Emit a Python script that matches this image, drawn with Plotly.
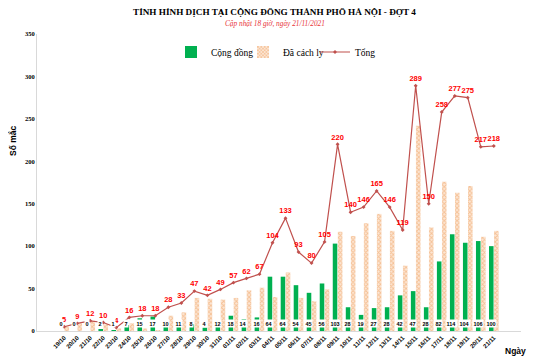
import plotly.graph_objects as go

dates = ["19/10", "20/10", "21/10", "22/10", "23/10", "24/10", "25/10", "26/10", "27/10", "28/10",
         "29/10", "30/10", "31/10", "01/11", "02/11", "03/11", "04/11", "05/11", "06/11", "07/11",
         "08/11", "09/11", "10/11", "11/11", "12/11", "13/11", "14/11", "15/11", "16/11", "17/11",
         "18/11", "19/11", "20/11", "21/11"]
cong_dong = [0, 0, 0, 2, 1, 7, 15, 17, 10, 11, 8, 4, 12, 18, 14, 16, 64, 64, 54, 45,
             56, 103, 28, 19, 27, 28, 42, 47, 28, 82, 114, 104, 106, 100]
tong = [5, 9, 12, 10, 4, 16, 18, 18, 28, 33, 47, 42, 49, 57, 62, 67, 104, 133, 93, 80,
        105, 220, 140, 146, 165, 146, 119, 289, 150, 258, 277, 275, 217, 218]
da_cach_ly = [t - c for t, c in zip(tong, cong_dong)]

# page has an 8px body margin: figure occupies window pixels 8..540 / 8..360
O = 8
W, H = 540 - O, 360 - O
# plot area in window pixels: x 37..521, y 34..331
PL, PR, PT, PB = 37, 521, 34, 331
L, R, T, B = PL - O, 540 - PR, PT - O, 360 - PB
pw, ph = PR - PL, PB - PT

def px(x):
    return (x - PL) / pw

def py(y):
    return (PB - y) / ph

fig = go.Figure()
fig.add_trace(go.Bar(
    x=dates, y=cong_dong, name="Cộng đồng",
    marker=dict(color="#00B050", line=dict(width=0)),
))
fig.add_trace(go.Bar(
    x=dates, y=da_cach_ly, name="Đã cách ly",
    marker=dict(color="#FBE0C8", line=dict(width=0),
                pattern=dict(shape="x", fgcolor="#EE9A55", bgcolor="#FCE6D4", size=3, solidity=0.5)),
))
fig.add_trace(go.Scatter(
    x=dates, y=tong, name="Tổng", mode="lines+markers+text",
    line=dict(color="#C0504D", width=1.2),
    marker=dict(symbol="diamond", size=3, color="#C0504D"),
    text=[str(v) for v in tong], textposition="top center",
    textfont=dict(family="Liberation Sans", size=7.5, color="#FF0000", weight="bold"),
))

for i, v in enumerate(cong_dong):
    fig.add_annotation(
        x=i, y=0, xref="x", yref="y", text=str(v), showarrow=False,
        xshift=-3, yshift=8, yanchor="middle",
        font=dict(family="Liberation Sans", size=5.5, color="#000000", weight="bold"),
        bgcolor="#FFFFFF", borderpad=0.5,
    )

fig.add_annotation(x=px(274), y=py(12), xref="paper", yref="paper",
                   text="<b>TÌNH HÌNH DỊCH TẠI CỘNG ĐỒNG THÀNH PHỐ HÀ NỘI - ĐỢT 4</b>",
                   showarrow=False, font=dict(family="Liberation Serif", size=9.2, color="#000000"),
                   xanchor="center", yanchor="middle")
fig.add_annotation(x=px(275), y=py(23), xref="paper", yref="paper",
                   text="<i>Cập nhật 18 giờ, ngày 21/11/2021</i>",
                   showarrow=False, font=dict(family="Liberation Serif", size=7.3, color="#E8343A"),
                   xanchor="center", yanchor="middle")
fig.add_annotation(x=px(12), y=py(141), xref="paper", yref="paper", text="<b>Số mắc</b>",
                   textangle=-90, showarrow=False,
                   font=dict(family="Liberation Sans", size=8.5, color="#000000"),
                   xanchor="center", yanchor="middle")
fig.add_annotation(x=px(515), y=py(351), xref="paper", yref="paper", text="<b>Ngày</b>",
                   showarrow=False, font=dict(family="Liberation Sans", size=8.5, color="#000000"),
                   xanchor="center", yanchor="middle")

fig.add_shape(type="line", xref="paper", yref="paper", x0=px(537.5), x1=px(537.5),
              y0=py(360), y1=py(O), line=dict(color="#D0D0D0", width=1))

fig.update_layout(
    width=W, height=H, margin=dict(l=L, r=R, t=T, b=B, autoexpand=False),
    paper_bgcolor="#FFFFFF", plot_bgcolor="#FFFFFF",
    barmode="group", bargap=0.22, bargroupgap=0.1,
    font=dict(family="Liberation Serif", color="#000000"),
    showlegend=True,
    legend=dict(orientation="h", x=px(171), xanchor="left", y=py(52), yanchor="middle",
                font=dict(family="Liberation Serif", size=9.5), itemwidth=30,
                entrywidth=27, entrywidthmode="pixels",
                bgcolor="rgba(0,0,0,0)", traceorder="normal"),
    xaxis=dict(type="category", tickangle=-45, showgrid=False, showline=True, automargin=False,
               linecolor="#D9D9D9", linewidth=1, ticks="",
               tickfont=dict(family="Liberation Sans", size=6, weight="bold")),
    yaxis=dict(range=[0, 350], dtick=50, showgrid=False, showline=True, linecolor="#D9D9D9",
               linewidth=1, ticks="", zeroline=False, automargin=False,
               tickfont=dict(family="Liberation Serif", size=6.5, weight="bold")),
)

fig.write_html("out.html")
